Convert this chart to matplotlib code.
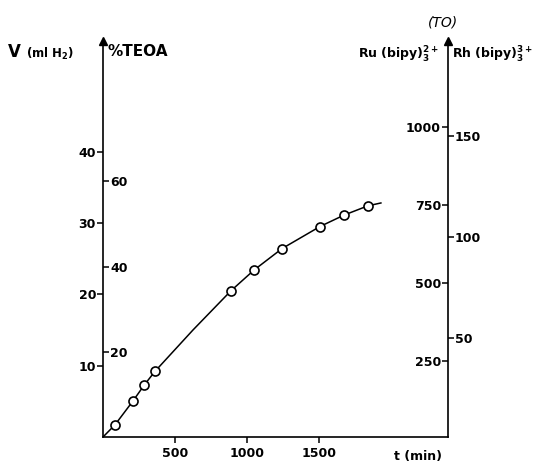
import matplotlib
matplotlib.use("Agg")
import matplotlib.pyplot as plt

plt.rcParams['font.family'] = ['DejaVu Sans']
plt.rcParams['font.weight'] = 'bold'
plt.rcParams['mathtext.default'] = 'bf'

# measured points: time (min) vs hydrogen volume (ml)
t_min = [83, 210, 287, 361, 889, 1049, 1243, 1507, 1674, 1840]
v_ml = [1.7, 5.1, 7.3, 9.2, 20.5, 23.4, 26.4, 29.5, 31.1, 32.4]

# smooth curve drawn through the points
curve_t = [0, 83, 210, 287, 361, 625, 889, 1049, 1243, 1507, 1674, 1840, 1930]
curve_v = [0, 1.7, 5.1, 7.3, 9.2, 15.0, 20.5, 23.4, 26.4, 29.5, 31.1, 32.4, 32.8]

x_ticks = [500, 1000, 1500]
v_ticks = [10, 20, 30, 40]
teoa_ticks = [20, 40, 60]
ru_ticks = [250, 500, 750, 1000]
rh_ticks = [50, 100, 150]

W, H = 539, 465
fig = plt.figure(figsize=(W / 100, H / 100), dpi=100)
ax = fig.add_axes([103 / W, (H - 437) / H, 345 / W, 396 / H])

ax.plot(curve_t, curve_v, color='black', lw=1.1, zorder=2)
ax.plot(t_min, v_ml, 'o', ms=6.5, mfc='white', mec='black', mew=1.2, zorder=3)

ax.set_xlim(0, 2396)
ax.set_ylim(0, 55.5)

ax.spines['top'].set_visible(False)
for s in ['left', 'bottom', 'right']:
    ax.spines[s].set_linewidth(1.2)

ax.set_xticks(x_ticks)
ax.set_yticks(v_ticks)
ax.tick_params(axis='both', direction='out', length=4, width=1.1, labelsize=9, pad=1)
ax.tick_params(axis='x', pad=3)

# % TEOA scale on the inner side of the left axis
teoa = ax.secondary_yaxis('left', functions=(lambda v: v * 1.675, lambda p: p / 1.675))
teoa.set_alignment('right')
teoa.set_yticks(teoa_ticks)
teoa.spines['right'].set_visible(False)
teoa.spines['left'].set_visible(False)
teoa.tick_params(direction='out', length=4, width=1.1, labelsize=9, pad=1)

# turnover scales on the right axis
ru = ax.secondary_yaxis('right', functions=(lambda v: 6.5 + v * 22.86, lambda r: (r - 6.5) / 22.86))
ru.set_alignment('left')
ru.set_yticks(ru_ticks)
ru.spines['left'].set_visible(False)
ru.spines['right'].set_visible(False)
ru.tick_params(direction='out', length=4, width=1.1, labelsize=9, pad=1)

rh = ax.secondary_yaxis('right', functions=(lambda v: 1.0 + v * 3.531, lambda r: (r - 1.0) / 3.531))
rh.set_yticks(rh_ticks)
rh.spines['right'].set_visible(False)
rh.tick_params(direction='out', length=4, width=1.1, labelsize=9, pad=1)

# arrow heads on the vertical axes
ax.plot([0, 1], [1, 1], '^', color='black', ms=6, transform=ax.transAxes, clip_on=False)

fig.text(8 / W, 1 - 52 / H, 'V', fontsize=12, va='center', ha='left')
fig.text(26 / W, 1 - 54 / H, '(ml H$_2$)', fontsize=8.5, va='center', ha='left')
fig.text(107 / W, 1 - 51 / H, '%TEOA', fontsize=11, va='center', ha='left')
fig.text(443 / W, 1 - 22 / H, '(TO)', fontsize=10, style='italic', weight='normal', va='center', ha='center')
fig.text(439 / W, 1 - 55 / H, 'Ru (bipy)$_3^{2+}$', fontsize=9, va='center', ha='right')
fig.text(452 / W, 1 - 55 / H, 'Rh (bipy)$_3^{3+}$', fontsize=9, va='center', ha='left')
fig.text(418 / W, 1 - 456 / H, 't (min)', fontsize=9, va='center', ha='center')

fig.savefig('out.png', dpi=100)
